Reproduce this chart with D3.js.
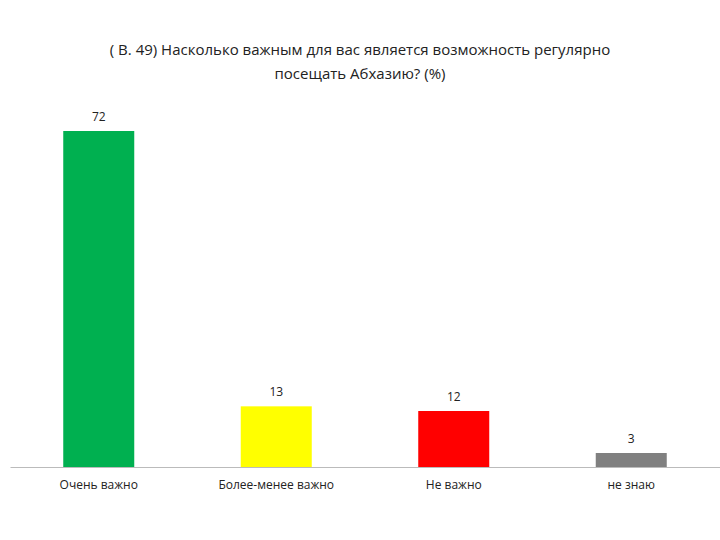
<!DOCTYPE html>
<html><head><meta charset="utf-8">
<script src="https://cdn.jsdelivr.net/npm/d3@7"></script>
<style>body{margin:0;background:#fff}</style></head>
<body><svg id="c" width="720" height="540"></svg>
<script>
const categories=["Очень важно","Более-менее важно","Не важно","не знаю"];
const values=[72,13,12,3];
const colors=["#00B050","#FFFF00","#FF0000","#808080"];
const titleLines=["( В. 49)  Насколько важным для вас  является возможность регулярно","посещать Абхазию? (%)"];
const svg=d3.select("#c");
const font="'Open Sans','Liberation Sans',sans-serif";
const x=d3.scaleBand().domain(categories).range([10,720]).paddingInner(0.6).paddingOuter(0.3);
const y=d3.scaleLinear().domain([0,72]).range([467,131]);
svg.selectAll("text.t").data(titleLines).join("text").attr("x",360).attr("y",(d,i)=>55+i*24)
 .attr("text-anchor","middle").attr("font-family",font).attr("font-size",15).attr("fill","#222").text(d=>d);
svg.selectAll("rect").data(values).join("rect").attr("x",(d,i)=>x(categories[i])).attr("width",x.bandwidth())
 .attr("y",d=>y(d)).attr("height",d=>y(0)-y(d)).attr("fill",(d,i)=>colors[i]);
svg.selectAll("text.v").data(values).join("text").attr("x",(d,i)=>x(categories[i])+x.bandwidth()/2).attr("y",d=>y(d)-10)
 .attr("text-anchor","middle").attr("font-family",font).attr("font-size",12).attr("fill","#222").text(d=>d);
const ax=svg.append("g").attr("transform","translate(0,467)").call(d3.axisBottom(x).tickSize(0).tickPadding(13));
ax.select(".domain").attr("stroke","#bbb");
ax.selectAll("text").attr("font-family",font).attr("font-size",12).attr("fill","#222");
</script></body></html>
